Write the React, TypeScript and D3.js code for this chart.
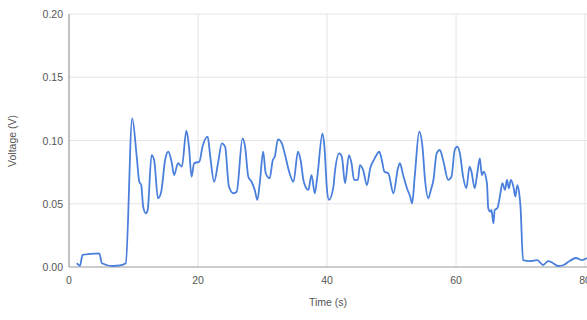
import React, { useEffect, useRef } from "react";
import * as d3 from "d3";

// seconds
const times = [
  1.2, 1.7, 2.1, 3.3, 4.7, 5.1, 6.8, 7.9, 8.8, 9.8, 10.5, 10.9, 11.2, 11.5, 11.9, 12.2,
  12.8, 13.2, 13.8, 14.3, 14.9, 15.4, 15.9, 16.3, 16.9, 17.5, 18.2, 18.6, 19.0, 19.4,
  20.2, 20.7, 21.5, 21.9, 22.5, 23.1, 23.7, 24.2, 24.8, 25.5, 26.0, 26.9, 27.3, 27.8,
  28.3, 28.8, 29.2, 29.6, 30.1, 30.5, 31.1, 31.6, 31.9, 32.4, 33.0, 33.5, 34.2, 34.8,
  35.5, 35.9, 36.4, 37.1, 37.6, 38.1, 38.5, 39.3, 39.6, 40.0, 40.3, 41.0, 41.2, 41.9,
  42.3, 42.8, 43.4, 43.8, 44.2, 44.8, 45.1, 45.6, 46.2, 46.7, 47.4, 48.1, 48.5, 48.9,
  49.5, 50.3, 51.0, 51.3, 51.8, 52.4, 52.9, 53.2, 53.6, 54.3, 54.8, 55.2, 55.7, 56.1,
  56.5, 57.0, 57.5, 58.0, 58.8, 59.3, 59.8, 60.2, 60.6, 61.1, 61.6, 62.1, 62.4, 62.9,
  63.3, 63.7, 64.0, 64.3, 64.8, 65.0, 65.3, 65.5, 65.8, 66.0, 66.4, 66.8, 67.2, 67.6,
  67.9, 68.2, 68.5, 68.9, 69.2, 69.5, 69.8, 70.0, 70.4, 71.5, 72.6, 73.5, 74.3, 75.0,
  75.8, 76.7, 77.6, 78.6, 79.5, 80.3,
];

// volts
const voltages = [
  0.003, 0.001, 0.0095, 0.0103, 0.0108, 0.003, 0.0008, 0.0012, 0.003, 0.1175, 0.0872, 0.0674, 0.0648, 0.0477, 0.0425, 0.0451,
  0.0885, 0.0846, 0.0543, 0.0595, 0.0846, 0.0911, 0.0832, 0.0727, 0.082, 0.0793, 0.1077, 0.0951, 0.0714, 0.082,
  0.0832, 0.0951, 0.103, 0.0872, 0.0674, 0.082, 0.0978, 0.0951, 0.0635, 0.0583, 0.0595, 0.1017, 0.0951, 0.0714,
  0.0674, 0.0609, 0.053, 0.0674, 0.0911, 0.0741, 0.0701, 0.0846, 0.0872, 0.1009, 0.0978, 0.0885, 0.0741, 0.0674,
  0.0911, 0.0846, 0.0674, 0.0609, 0.0727, 0.0583, 0.0714, 0.1057, 0.0951, 0.0609, 0.053, 0.0635, 0.0741, 0.0899,
  0.0872, 0.0662, 0.0885, 0.082, 0.0688, 0.0688, 0.0806, 0.0767, 0.0648, 0.078, 0.0859, 0.0911, 0.0846, 0.0753,
  0.0741, 0.0583, 0.078, 0.082, 0.0727, 0.0622, 0.0556, 0.0504, 0.0714, 0.107, 0.0951, 0.0688, 0.0543, 0.0609,
  0.0688, 0.0899, 0.0925, 0.0846, 0.0688, 0.0714, 0.0925, 0.0951, 0.0899, 0.0714, 0.0622, 0.0793, 0.0753, 0.0622,
  0.0741, 0.0859, 0.0727, 0.0753, 0.0662, 0.0464, 0.0437, 0.0451, 0.0345, 0.0451, 0.0464, 0.0556, 0.0662, 0.0609,
  0.0688, 0.0622, 0.0688, 0.0635, 0.0556, 0.0648, 0.0583, 0.0477, 0.0055, 0.0047, 0.0055, 0.0016, 0.0047, 0.0032,
  0.0008, 0.0016, 0.0047, 0.0071, 0.0055, 0.0071,
];

const xTicks = [0, 20, 40, 60, 80];
const yTicks = [0, 0.05, 0.1, 0.15, 0.2];

const W = 587;
const H = 320;
const margin = { top: 14, right: 2, bottom: 53, left: 69 };
const font = "Arial, 'Liberation Sans', sans-serif";

export default function App() {
  const ref = useRef<SVGSVGElement>(null);

  useEffect(() => {
    const svg = d3.select(ref.current);
    svg.selectAll("*").remove();

    const x = d3.scaleLinear().domain([0, 80]).range([margin.left, W - margin.right]);
    const y = d3.scaleLinear().domain([0, 0.2]).range([H - margin.bottom, margin.top]);

    const data = times.map((t, i) => [t, voltages[i]] as [number, number]);

    // grid
    svg.append("g")
      .selectAll("line")
      .data(yTicks.slice(1))
      .join("line")
      .attr("x1", margin.left).attr("x2", W)
      .attr("y1", d => y(d)).attr("y2", d => y(d))
      .attr("stroke", "#e4e4e4");
    svg.append("g")
      .selectAll("line")
      .data(xTicks.slice(1))
      .join("line")
      .attr("x1", d => x(d)).attr("x2", d => x(d))
      .attr("y1", margin.top).attr("y2", y(0))
      .attr("stroke", "#e4e4e4");

    // axes
    svg.append("line")
      .attr("x1", margin.left).attr("x2", margin.left)
      .attr("y1", margin.top).attr("y2", y(0))
      .attr("stroke", "#999").attr("stroke-width", 1.2);
    svg.append("line")
      .attr("x1", margin.left).attr("x2", W)
      .attr("y1", y(0)).attr("y2", y(0))
      .attr("stroke", "#999").attr("stroke-width", 1.2);

    svg.append("g")
      .selectAll("text")
      .data(yTicks)
      .join("text")
      .attr("x", margin.left - 6)
      .attr("y", d => y(d) + 4)
      .attr("text-anchor", "end")
      .attr("font-size", 10.5)
      .attr("fill", "#555")
      .text(d => d3.format(".2f")(d));

    svg.append("g")
      .selectAll("text")
      .data(xTicks)
      .join("text")
      .attr("x", d => x(d))
      .attr("y", y(0) + 17)
      .attr("text-anchor", "middle")
      .attr("font-size", 10.5)
      .attr("fill", "#555")
      .text(d => d);

    svg.append("text")
      .attr("x", 328)
      .attr("y", 306)
      .attr("text-anchor", "middle")
      .attr("font-size", 10.5)
      .attr("fill", "#555")
      .text("Time (s)");

    svg.append("text")
      .attr("transform", `translate(16,141) rotate(-90)`)
      .attr("text-anchor", "middle")
      .attr("font-size", 10.5)
      .attr("fill", "#555")
      .text("Voltage (V)");

    const line = d3.line<[number, number]>()
      .x(d => x(d[0]))
      .y(d => y(d[1]))
      .curve(d3.curveMonotoneX);

    svg.append("path")
      .datum(data)
      .attr("d", line)
      .attr("fill", "none")
      .attr("stroke", "#4a7fdc")
      .attr("stroke-width", 1.8)
      .attr("stroke-linejoin", "round");
  }, []);

  return (
    <svg
      ref={ref}
      width={W}
      height={H}
      style={{ position: "absolute", left: 0, top: 0, background: "#fff", fontFamily: font, overflow: "hidden" }}
    />
  );
}
